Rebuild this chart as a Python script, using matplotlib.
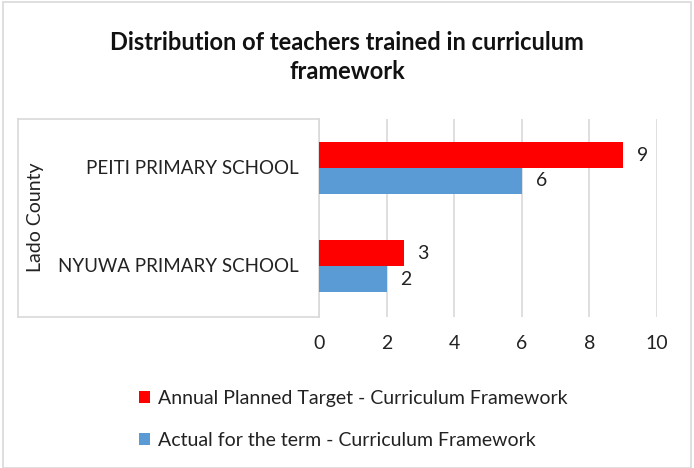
import numpy as np
import matplotlib
matplotlib.use("Agg")
from matplotlib import pyplot as plt
from matplotlib.lines import Line2D
from matplotlib.patches import Rectangle

plt.rcParams['font.family'] = ['Lato', 'DejaVu Sans']

# data
schools = ["NYUWA PRIMARY SCHOOL", "PEITI PRIMARY SCHOOL"]
group_label = "Lado County"
planned = [2.5, 9]
actual = [2, 6]
planned_name = "Annual Planned Target - Curriculum Framework"
actual_name = "Actual for the term - Curriculum Framework"
x_ticks = [0, 2, 4, 6, 8, 10]

red = "#FF0000"
blue = "#5B9BD5"
grid_col = "#D9D9D9"
txt_col = "#222222"
fs = 14

fig = plt.figure(figsize=(6.94, 4.68), dpi=100)
W, H = 694, 468
ax = fig.add_axes([319 / W, 1 - 317 / H, (657 - 319) / W, (317 - 119) / H])

y = np.arange(len(schools))
h = 0.265
b1 = ax.barh(y + h / 2, planned, height=h, color=red, label=planned_name, zorder=3)
b2 = ax.barh(y - h / 2, actual, height=h, color=blue, label=actual_name, zorder=3)

# excel style labels (round half up)
for bars, vals in ((b1, planned), (b2, actual)):
    for bar, v in zip(bars, vals):
        ax.annotate(str(int(v + 0.5)), (bar.get_width(), bar.get_y() + bar.get_height() / 2),
                    xytext=(10, 0), textcoords="offset points", va="center", ha="left",
                    fontsize=fs, color=txt_col)

ax.set_xlim(0, 10)
ax.set_ylim(-0.52, 1.5)
ax.set_xticks(x_ticks)
ax.set_yticks([])
ax.tick_params(axis="x", length=0, labelsize=fs, pad=13, colors=txt_col)
ax.grid(axis="x", color=grid_col, linewidth=1.2, zorder=0)
for s in ("top", "right", "bottom"):
    ax.spines[s].set_visible(False)
ax.spines["left"].set_color(grid_col)
ax.spines["left"].set_linewidth(1.2)

# category box on the left
box_l, box_r, box_t, box_b = 18 / W, 319 / W, 1 - 119 / H, 1 - 317 / H
for xs, ys in (([box_l, box_r], [box_t, box_t]), ([box_l, box_l], [box_t, box_b]),
               ([box_l, box_r], [box_b, box_b])):
    fig.add_artist(Line2D(xs, ys, color=grid_col, linewidth=1.2, transform=fig.transFigure))

for yi, name in zip(y, schools):
    ax.text(-(319 - 299) / 338, yi, name, ha="right", va="center", fontsize=13.5, color=txt_col,
            transform=ax.get_yaxis_transform())
fig.text(35 / W, 1 - 217 / H, group_label, rotation=90, ha="center", va="center",
         fontsize=fs, color=txt_col)

fig.text(0.5, 1 - 57 / H, "Distribution of teachers trained in curriculum\nframework",
         ha="center", va="center", fontsize=17, fontweight="bold", linespacing=1.35,
         color="#111111")

fig.legend(handles=[b1, b2], loc="upper left", bbox_to_anchor=(131 / W, 1 - 382 / H),
           frameon=False, fontsize=fs, handlelength=0.6, handleheight=0.6,
           handletextpad=0.4, labelspacing=1.3, borderaxespad=0, labelcolor=txt_col)

fig.add_artist(Rectangle((3 / W, 0), 1 - 6 / W, 1 - 2 / H, transform=fig.transFigure,
                         fill=False, edgecolor=grid_col, linewidth=1.2))

fig.savefig("out.png", dpi=100)
